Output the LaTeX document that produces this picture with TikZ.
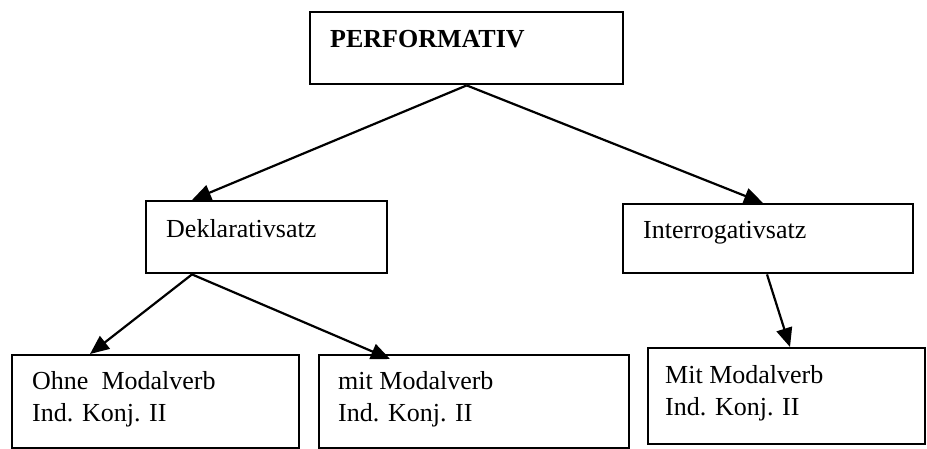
\documentclass[tikz,border=0pt]{standalone}
\usepackage{fontspec}
\setmainfont{Liberation Serif}
\usetikzlibrary{arrows.meta}
\begin{document}
\begin{tikzpicture}[x=1pt,y=-1pt,
  box/.style={draw=black,line width=2.4pt,fill=white,rectangle,inner sep=0pt,anchor=north west},
  txt/.style={anchor=base west,inner sep=0pt,font=\fontsize{26}{32}\selectfont,align=left},
  conn/.style={line width=2.2pt,-{Triangle[length=19pt,width=16pt]}}]
\useasboundingbox (0,0) rectangle (927,448);
% boxes
\node[box,minimum width=313pt,minimum height=72pt] (perf) at (309,11) {};
\node[box,minimum width=241pt,minimum height=72pt] (dekl) at (145,200) {};
\node[box,minimum width=290pt,minimum height=69pt] (inter) at (622,203) {};
\node[box,minimum width=287pt,minimum height=93pt] (ohne) at (11,354) {};
\node[box,minimum width=310pt,minimum height=93pt] (mit) at (318,354) {};
\node[box,minimum width=277pt,minimum height=96pt] (mitm) at (647,347) {};
% texts
\node[txt,font=\fontsize{26}{32}\selectfont\bfseries] (tperf) at (330,47) {PERFORMATIV};
\node[txt] (tdekl) at (166,237) {Deklarativsatz};
\node[txt] (tinter) at (643,238) {Interrogativsatz};
\node[txt] (tohne) at (32,421) {Ohne~ Modalverb\\Ind. Konj. II};
\node[txt] (tmit) at (338,421) {mit Modalverb\\Ind. Konj. II};
\node[txt] (tmitm) at (665,415) {Mit Modalverb\\Ind. Konj. II};
% anchor points
\coordinate (ds) at ([xshift=47pt]dekl.south west);
\coordinate (dn) at ([xshift=47pt]dekl.north west);
\coordinate (on) at ([xshift=79pt]ohne.north west);
\coordinate (mn) at ([xshift=72pt,yshift=-5pt]mit.north west);
\coordinate (is) at ([xshift=145pt]inter.south west);
\coordinate (in) at ([xshift=141pt]inter.north west);
\coordinate (mmn) at ([xshift=143pt]mitm.north west);
% connectors
\draw[conn] (perf.south) -- (dn);
\draw[conn] (perf.south) -- (in);
\draw[conn] (ds) -- (on);
\draw[conn] (ds) -- (mn);
\draw[conn] (is) -- (mmn);
\end{tikzpicture}
\end{document}
